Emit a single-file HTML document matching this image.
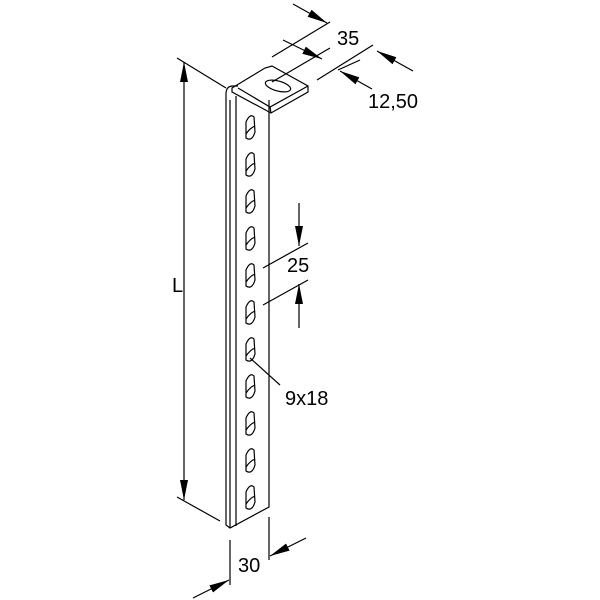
<!DOCTYPE html>
<html><head><style>body{margin:0;background:#fff}svg{display:block}text{font-family:"Liberation Sans",sans-serif;font-size:20px;fill:#000;stroke:none}</style></head><body>
<svg width="600" height="600" viewBox="0 0 600 600" stroke="#000" fill="none" stroke-width="1.2">
<defs>
<marker id="b" viewBox="0 0 20 8" refX="20" refY="4" markerWidth="20" markerHeight="8" orient="auto" markerUnits="userSpaceOnUse"><path d="M0,0L20,4L0,8z" fill="#000" stroke="none"/></marker></defs>
<!-- column -->
<path d="M226,94 Q226,86 233,86 L238,86 M226,94 L226,525 L230,528 L269,507 L269,100"/>
<path d="M236,96 L236,526 M230,528 L230,100"/>
<!-- flange -->
<path d="M232,88 L265,68 L272,66 L308,86 L308,92 L271,113 L232,92 Z"/>
<path d="M238,88 L270,107 L308,86 M270,107 L271,113"/>
<ellipse cx="278" cy="86" rx="13" ry="5" transform="rotate(15 278 86)"/>
<!-- slots -->
<g id="s"><path d="M246,122 Q250,113 254,117 L255,132 Q252,142 246,138 Z"/><path d="M246,134 Q250,128 255,126"/></g>
<use href="#s" y="37"/><use href="#s" y="74"/><use href="#s" y="111"/><use href="#s" y="148"/><use href="#s" y="185"/><use href="#s" y="222"/><use href="#s" y="259"/><use href="#s" y="296"/><use href="#s" y="333"/><use href="#s" y="370"/>
<!-- L -->
<path d="M177,58 L226,88 M177,497 L220,521"/>
<line x1="184" y1="290" x2="184" y2="62" marker-end="url(#b)"/>
<line x1="184" y1="290" x2="184" y2="500" marker-end="url(#b)"/>
<text x="172" y="292">L</text>
<!-- 35 -->
<path d="M272,57 L330,22 M272,82 L330,48 M317,80 L373,45"/>
<line x1="293" y1="4" x2="327" y2="23" marker-end="url(#b)"/>
<line x1="283" y1="40" x2="322" y2="59" marker-end="url(#b)"/>
<text x="337" y="45">35</text>
<!-- 12,50 -->
<path d="M338,70 L360,60"/>
<line x1="413" y1="71" x2="377" y2="51" marker-end="url(#b)"/>
<line x1="372" y1="89" x2="340" y2="71" marker-end="url(#b)"/>
<text x="368" y="108">12,50</text>
<!-- 25 -->
<path d="M263,268 L308,243 M263,305 L308,280"/>
<line x1="299" y1="203" x2="299" y2="246" marker-end="url(#b)"/>
<line x1="299" y1="328" x2="299" y2="284" marker-end="url(#b)"/>
<text x="287" y="272">25</text>
<!-- 9x18 -->
<path d="M250,358 L280,385"/>
<text x="285" y="405">9x18</text>
<!-- 30 -->
<path d="M230,540 L230,585 M269,517 L269,560"/>
<line x1="193" y1="598" x2="229" y2="580" marker-end="url(#b)"/>
<line x1="306" y1="538" x2="270" y2="556" marker-end="url(#b)"/>
<text x="238" y="572">30</text>
</svg>
</body></html>
